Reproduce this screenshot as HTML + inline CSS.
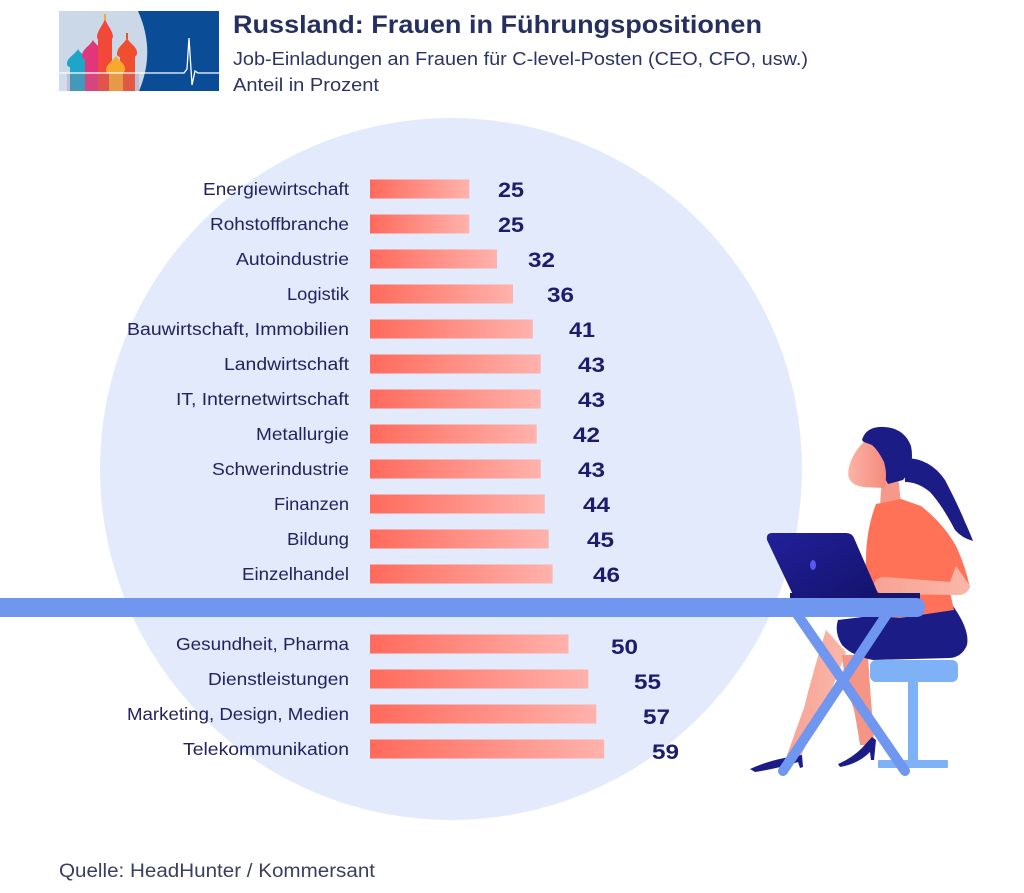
<!DOCTYPE html>
<html>
<head>
<meta charset="utf-8">
<style>
html,body{margin:0;padding:0;background:#fff;}
svg{display:block;}
text{font-family:"Liberation Sans",sans-serif;}
</style>
</head>
<body>
<svg width="1024" height="893" viewBox="0 0 1024 893" xmlns="http://www.w3.org/2000/svg">
<defs>
<linearGradient id="bar" x1="0" y1="0" x2="1" y2="0">
<stop offset="0" stop-color="#ff6a5c"/>
<stop offset="1" stop-color="#ffb2ac"/>
</linearGradient>
<linearGradient id="lap" x1="0" y1="0" x2="1" y2="1">
<stop offset="0" stop-color="#22209a"/>
<stop offset="1" stop-color="#13136c"/>
</linearGradient>
<linearGradient id="skin" x1="0" y1="0" x2="1" y2="0">
<stop offset="0" stop-color="#f7a394"/>
<stop offset="1" stop-color="#fbb6a8"/>
</linearGradient>
<linearGradient id="face" x1="0" y1="0" x2="1" y2="0">
<stop offset="0" stop-color="#fcb3a6"/>
<stop offset="1" stop-color="#f48a7c"/>
</linearGradient>
</defs>

<rect x="0" y="0" width="1024" height="893" fill="#ffffff"/>

<!-- background circle -->
<circle cx="451" cy="469" r="351" fill="#e2eafb"/>

<!-- logo -->
<g transform="translate(59,11)">
<rect x="0" y="0" width="160" height="80" fill="#0b4c97"/>
<path d="M0,0 H79 Q97,40 80,80 H0 Z" fill="#cad8e7"/>
<!-- domes -->
<rect x="11" y="52" width="17" height="28" fill="#1ea6c9"/>
<path d="M19,38 C22,44 31,46 30,53 Q29,56 26,56 L12,56 Q8,56 8,53 C8,46 16,44 19,38 Z" fill="#1ea6c9"/>
<rect x="26" y="42" width="16" height="38" fill="#e3357c"/>
<path d="M34,29 C37,35 46,38 45,45 Q44,48 41,48 L27,48 Q23,48 23,45 C23,38 31,35 34,29 Z" fill="#e3357c"/>
<rect x="39" y="26" width="14" height="54" fill="#f2483a"/>
<path d="M46,8 C48,14 54,20 54,26 Q53,29 50,29 L42,29 Q38,29 38,26 C38,20 44,14 46,8 Z" fill="#f2483a"/>
<rect x="45" y="3" width="2" height="6" fill="#f7a82e"/>
<rect x="61" y="40" width="15" height="40" fill="#ef4f2e"/>
<path d="M68,27 C71,33 79,36 78,43 Q77,46 74,46 L62,46 Q58,46 58,43 C58,36 65,33 68,27 Z" fill="#ef4f2e"/>
<rect x="67" y="22" width="2" height="6" fill="#ef4f2e"/>
<rect x="50" y="58" width="14" height="22" fill="#f7a82e"/>
<path d="M57,45 C60,50 67,53 66,59 Q65,62 62,62 L51,62 Q47,62 47,59 C47,53 54,50 57,45 Z" fill="#f7a82e"/>
<rect x="0" y="62" width="80" height="18" fill="#ffffff" opacity="0.12"/>
<rect x="8" y="62" width="72" height="18" fill="#7a1a3a" opacity="0.15"/>
<!-- ecg line -->
<polyline points="0,62 125,62 128,58 130,27 133,74 136,60 139,62 160,62" fill="none" stroke="#ffffff" stroke-width="1.3"/>
</g>

<!-- title -->
<text x="233" y="33" font-size="25" font-weight="bold" fill="#26305f" textLength="529" lengthAdjust="spacingAndGlyphs">Russland: Frauen in Führungspositionen</text>
<text x="233" y="65" font-size="18" fill="#2b3462" textLength="575" lengthAdjust="spacingAndGlyphs">Job-Einladungen an Frauen für C-level-Posten (CEO, CFO, usw.)</text>
<text x="233" y="91" font-size="18" fill="#2b3462" textLength="146" lengthAdjust="spacingAndGlyphs">Anteil in Prozent</text>

<!-- bars -->
<g fill="url(#bar)">
<rect x="370" y="179.5" width="99.3" height="19"/>
<rect x="370" y="214.5" width="99.3" height="19"/>
<rect x="370" y="249.5" width="127" height="19"/>
<rect x="370" y="284.5" width="143" height="19"/>
<rect x="370" y="319.5" width="162.8" height="19"/>
<rect x="370" y="354.5" width="170.7" height="19"/>
<rect x="370" y="389.5" width="170.7" height="19"/>
<rect x="370" y="424.5" width="166.7" height="19"/>
<rect x="370" y="459.5" width="170.7" height="19"/>
<rect x="370" y="494.5" width="174.7" height="19"/>
<rect x="370" y="529.5" width="178.7" height="19"/>
<rect x="370" y="564.5" width="182.6" height="19"/>
<rect x="370" y="634.5" width="198.5" height="19"/>
<rect x="370" y="669.5" width="218.4" height="19"/>
<rect x="370" y="704.5" width="226.3" height="19"/>
<rect x="370" y="739.5" width="234.2" height="19"/>
</g>

<!-- category labels -->
<g font-size="17.5" fill="#22235e">
<text x="203" y="195" textLength="146" lengthAdjust="spacingAndGlyphs">Energiewirtschaft</text>
<text x="210" y="230" textLength="139" lengthAdjust="spacingAndGlyphs">Rohstoffbranche</text>
<text x="236" y="265" textLength="113" lengthAdjust="spacingAndGlyphs">Autoindustrie</text>
<text x="287" y="300" textLength="62" lengthAdjust="spacingAndGlyphs">Logistik</text>
<text x="127" y="335" textLength="222" lengthAdjust="spacingAndGlyphs">Bauwirtschaft, Immobilien</text>
<text x="224" y="370" textLength="125" lengthAdjust="spacingAndGlyphs">Landwirtschaft</text>
<text x="176" y="405" textLength="173" lengthAdjust="spacingAndGlyphs">IT, Internetwirtschaft</text>
<text x="256" y="440" textLength="93" lengthAdjust="spacingAndGlyphs">Metallurgie</text>
<text x="212" y="475" textLength="137" lengthAdjust="spacingAndGlyphs">Schwerindustrie</text>
<text x="274" y="510" textLength="75" lengthAdjust="spacingAndGlyphs">Finanzen</text>
<text x="287" y="545" textLength="62" lengthAdjust="spacingAndGlyphs">Bildung</text>
<text x="242" y="580" textLength="107" lengthAdjust="spacingAndGlyphs">Einzelhandel</text>
<text x="176" y="650" textLength="173" lengthAdjust="spacingAndGlyphs">Gesundheit, Pharma</text>
<text x="208" y="685" textLength="141" lengthAdjust="spacingAndGlyphs">Dienstleistungen</text>
<text x="127" y="720" textLength="222" lengthAdjust="spacingAndGlyphs">Marketing, Design, Medien</text>
<text x="183" y="755" textLength="166" lengthAdjust="spacingAndGlyphs">Telekommunikation</text>
</g>

<!-- values -->
<g font-size="21" font-weight="bold" fill="#1b1c6b">
<text x="498" y="197" textLength="26" lengthAdjust="spacingAndGlyphs">25</text>
<text x="498" y="232" textLength="26" lengthAdjust="spacingAndGlyphs">25</text>
<text x="528" y="267" textLength="27" lengthAdjust="spacingAndGlyphs">32</text>
<text x="547" y="302" textLength="27" lengthAdjust="spacingAndGlyphs">36</text>
<text x="569" y="337" textLength="26" lengthAdjust="spacingAndGlyphs">41</text>
<text x="578" y="372" textLength="27" lengthAdjust="spacingAndGlyphs">43</text>
<text x="578" y="407" textLength="27" lengthAdjust="spacingAndGlyphs">43</text>
<text x="573" y="442" textLength="27" lengthAdjust="spacingAndGlyphs">42</text>
<text x="578" y="477" textLength="27" lengthAdjust="spacingAndGlyphs">43</text>
<text x="583" y="512" textLength="27" lengthAdjust="spacingAndGlyphs">44</text>
<text x="587" y="547" textLength="27" lengthAdjust="spacingAndGlyphs">45</text>
<text x="593" y="582" textLength="27" lengthAdjust="spacingAndGlyphs">46</text>
<text x="611" y="654" textLength="27" lengthAdjust="spacingAndGlyphs">50</text>
<text x="634" y="689" textLength="27" lengthAdjust="spacingAndGlyphs">55</text>
<text x="643" y="724" textLength="27" lengthAdjust="spacingAndGlyphs">57</text>
<text x="652" y="759" textLength="27" lengthAdjust="spacingAndGlyphs">59</text>
</g>

<!-- woman illustration -->
<!-- stool -->
<rect x="908" y="678" width="10" height="86" fill="#7eb1f6"/>
<rect x="878" y="760" width="70" height="8" rx="1" fill="#7eb1f6"/>
<rect x="870" y="660" width="88" height="22" rx="6" fill="#7eb1f6"/>

<!-- ponytail -->
<path d="M905,458 Q930,458 945,480 Q958,505 965,522 Q970,533 973,541 Q962,538 955,530 Q942,505 930,492 Q918,482 905,482 Z" fill="#1c1c86"/>
<!-- neck -->
<path d="M882,478 L898,476 L901,503 L880,505 Z" fill="#f59a8b"/>
<!-- hair head -->
<path d="M862,440 Q866,426 884,427 Q904,428 911,446 Q915,466 903,480 L888,484 Q880,470 872,452 Z" fill="#1c1c86"/>
<!-- face -->
<path d="M864,442 Q853,452 849,467 Q847,476 850,480 Q854,486 864,487 L884,488 Q888,476 884,462 Q878,450 872,445 Z" fill="url(#face)"/>

<!-- back leg -->
<path d="M826,630 L846,652 Q832,690 822,712 Q810,735 800,758 L786,758 Q796,730 804,708 Q814,668 826,630 Z" fill="url(#skin)"/>
<!-- front leg -->
<path d="M842,655 L868,655 Q870,690 872,712 Q875,730 873,745 L860,745 Q857,725 854,710 Q844,680 842,655 Z" fill="#f49585"/>
<!-- shoes -->
<path d="M750,769 Q770,760 790,757 L802,755 L803,767 L800,768 L798,762 Q780,768 755,772 Z" fill="#1c1c86"/>
<path d="M838,764 Q852,758 862,748 L872,737 L876,740 L874,760 L871,760 L870,752 Q858,764 840,767 Z" fill="#1c1c86"/>

<!-- skirt -->
<path d="M838,620 L953,606 Q970,630 967,645 Q962,657 950,658 L873,660 Q852,656 842,645 Q834,632 838,620 Z" fill="#1c1c86"/>

<!-- shirt -->
<path d="M876,504 L901,499 L921,506 Q945,525 957,548 Q966,568 970,588 L950,592 L954,610 L900,618 L862,615 Q864,585 866,560 Q866,530 876,504 Z" fill="#ff7258"/>
<!-- arm -->
<path d="M956,566 L970,586 Q968,594 960,595 L884,594 Q874,592 874,584 Q876,577 885,577 L950,582 Z" fill="url(#skin)"/>

<!-- laptop -->
<rect x="790" y="593" width="130" height="7" fill="#16166e"/>
<path d="M772,533 L846,533 Q852,533 854,538 L880,598 L795,599 L767,540 Q766,533 772,533 Z" fill="url(#lap)"/>
<ellipse cx="813" cy="565" rx="3" ry="5" fill="#5a58f2"/>

<!-- table top -->
<path d="M0,598 H916 Q925,598 925,607.5 Q925,617 916,617 H0 Z" fill="#6f97f0"/>
<!-- table legs -->
<line x1="797" y1="614" x2="905" y2="771" stroke="#6f97f0" stroke-width="10" stroke-linecap="round"/>
<line x1="887" y1="614" x2="783" y2="771" stroke="#6f97f0" stroke-width="10" stroke-linecap="round"/>

<!-- footer -->
<text x="59" y="877" font-size="19" fill="#3a3f5e" textLength="316" lengthAdjust="spacingAndGlyphs">Quelle: HeadHunter / Kommersant</text>
</svg>
</body>
</html>
